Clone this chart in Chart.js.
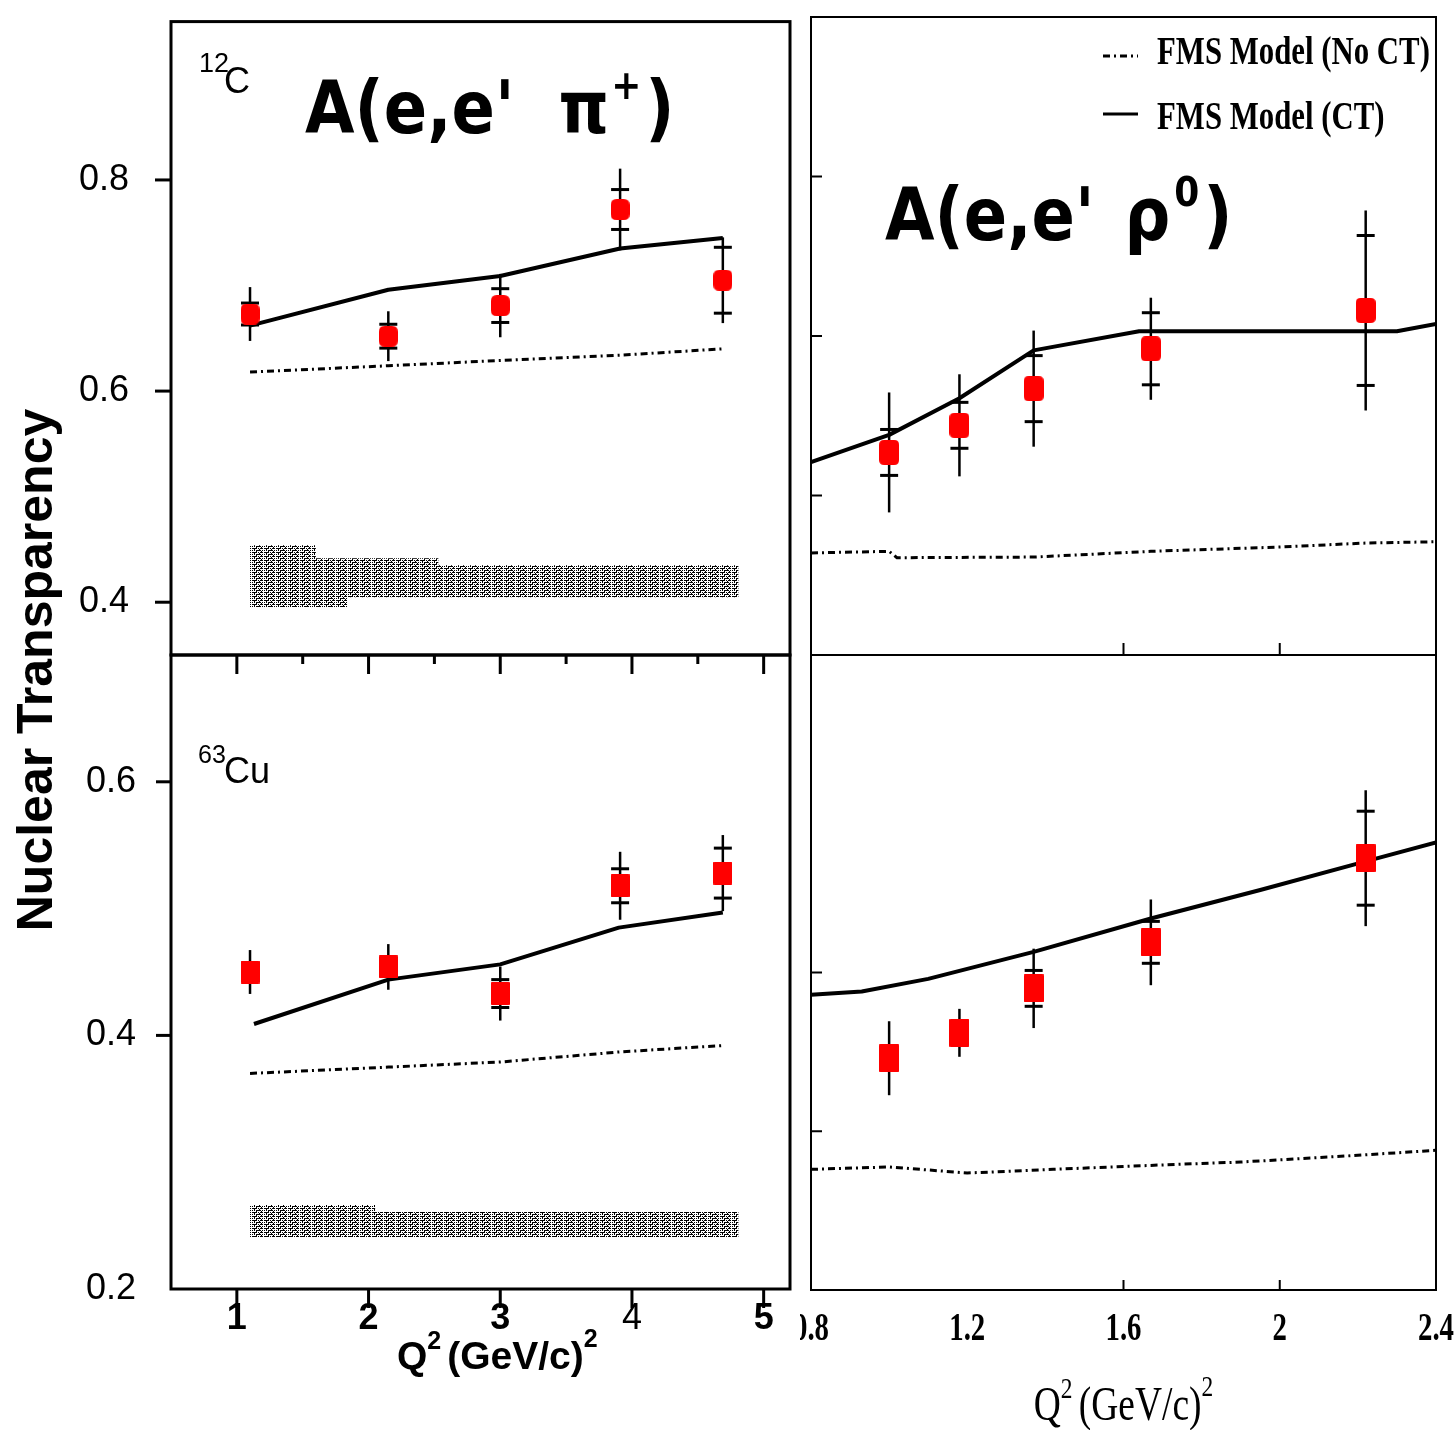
<!DOCTYPE html>
<html>
<head>
<meta charset="utf-8">
<title>Nuclear Transparency</title>
<script src="https://cdn.jsdelivr.net/npm/chart.js@4.4.1/dist/chart.umd.min.js"></script>
<style>
  html, body { margin: 0; padding: 0; background: #fff; }
  body { width: 1456px; height: 1430px; position: relative; overflow: hidden; }
  canvas { position: absolute; top: 0; }
</style>
</head>
<body>
<canvas id="tl" width="800" height="1430" style="left:0"></canvas>
<canvas id="bl" width="800" height="1430" style="left:0"></canvas>
<canvas id="tr" width="656" height="1430" style="left:800px"></canvas>
<canvas id="br" width="656" height="1430" style="left:800px"></canvas>
<script>
// ---------- A(e,e' pi+) : 12C ----------
const piQ2 = [1.10, 2.15, 3.00, 3.91, 4.69];
const piC_T = [0.673, 0.652, 0.681, 0.772, 0.705];
const piC_stat = [0.0104, 0.0113, 0.016, 0.0189, 0.0312];
const piC_tot = [0.0255, 0.0236, 0.030, 0.0387, 0.0406];
const piC_ct = [0.662, 0.696, 0.709, 0.735, 0.745];
const piC_noct = [0.618, 0.624, 0.629, 0.634, 0.640];
const piC_bandQ2 = [1.10, 1.60, 1.84, 2.53, 2.69, 4.81];
const piC_bandHi = [0.454, 0.454, 0.4416, 0.4416, 0.435, 0.435];
const piC_bandLo = [0.3897, 0.3954, 0.3954, 0.4048, 0.4048, 0.4048];

// ---------- A(e,e' pi+) : 63Cu ----------
const piCu_T = [0.450, 0.454, 0.433, 0.518, 0.528];
const piCu_stat = [null, null, 0.011, 0.0134, 0.0197];
const piCu_tot = [0.0173, 0.018, 0.0213, 0.0268, 0.030];
const piCu_ctQ2 = [1.13, 2.15, 3.00, 3.90, 4.69];
const piCu_ct = [0.409, 0.444, 0.456, 0.485, 0.497];
const piCu_noct = [0.370, 0.375, 0.379, 0.387, 0.392];
const piCu_bandQ2 = [1.10, 2.05, 2.15, 4.81];
const piCu_bandHi = [0.2662, 0.2662, 0.2607, 0.2607];
const piCu_bandLo = [0.2363, 0.241, 0.241, 0.241];

// ---------- A(e,e' rho0) : upper panel ----------
const rhoQ2 = [1.00, 1.18, 1.37, 1.67, 2.22];
const rhoA_T = [0.627, 0.644, 0.667, 0.692, 0.716];
const rhoA_stat = [0.0144, 0.0144, 0.0207, 0.0226, 0.047];
const rhoA_tot = [0.0376, 0.032, 0.0364, 0.032, 0.0627];
const rhoA_ctQ2 = [0.80, 1.00, 1.18, 1.37, 1.64, 2.30, 2.40];
const rhoA_ct = [0.621, 0.638, 0.661, 0.691, 0.703, 0.703, 0.7075];
const rhoA_noctQ2 = [0.80, 1.00, 1.02, 1.37, 1.67, 2.00, 2.22, 2.40];
const rhoA_noct = [0.564, 0.565, 0.561, 0.5614, 0.565, 0.5677, 0.5702, 0.571];

// ---------- A(e,e' rho0) : lower panel ----------
const rhoB_T = [0.446, 0.462, 0.490, 0.519, 0.572];
const rhoB_stat = [null, null, 0.0113, 0.0132, 0.0296];
const rhoB_tot = [0.0233, 0.0151, 0.025, 0.027, 0.0428];
const rhoB_ctQ2 = [0.80, 0.93, 1.10, 1.37, 1.67, 1.95, 2.22, 2.40];
const rhoB_ct = [0.486, 0.488, 0.496, 0.513, 0.534, 0.552, 0.570, 0.582];
const rhoB_noctQ2 = [0.80, 1.00, 1.20, 1.42, 1.69, 1.90, 2.17, 2.40];
const rhoB_noct = [0.376, 0.3775, 0.3737, 0.376, 0.3787, 0.3806, 0.3844, 0.388];

// tick labels
const rhoXLabels = ['0.8', '1.2', '1.6', '2', '2.4'];
const legendLabels = ['FMS Model (No CT)', 'FMS Model (CT)'];

const SANS = '"Liberation Sans", Arial, sans-serif';
const SERIF = '"Liberation Serif", "Times New Roman", serif';
const ROUND = '"DejaVu Sans", sans-serif';
Chart.defaults.font.family = SANS;
Chart.defaults.color = '#000';

const pts = (xs, ys) => xs.map((x, i) => ({ x, y: ys[i] }));

function markerTile(w, h, r) {
  const c = document.createElement('canvas');
  c.width = w; c.height = h;
  const g = c.getContext('2d');
  g.fillStyle = '#ff0000';
  g.beginPath();
  g.moveTo(r, 0); g.lineTo(w - r, 0); g.quadraticCurveTo(w, 0, w, r);
  g.lineTo(w, h - r); g.quadraticCurveTo(w, h, w - r, h);
  g.lineTo(r, h); g.quadraticCurveTo(0, h, 0, h - r);
  g.lineTo(0, r); g.quadraticCurveTo(0, 0, r, 0);
  g.closePath(); g.fill();
  return c;
}

// hatch texture of broken horizontal rows used for the systematic bands
function hatchPattern() {
  const rows = [
    '111110101110',
    '001000010000',
    '101011111010',
    '000010000100'
  ];
  const c = document.createElement('canvas');
  c.width = rows[0].length; c.height = rows.length;
  const g = c.getContext('2d');
  g.fillStyle = '#fff'; g.fillRect(0, 0, c.width, c.height);
  g.fillStyle = '#000';
  rows.forEach((r, y) => { for (let x = 0; x < r.length; x++) if (r[x] === '1') g.fillRect(x, y, 1, 1); });
  return g.createPattern(c, 'repeat');
}
const BAND = hatchPattern();

function pointSet(xs, ys, img) {
  return { data: pts(xs, ys), showLine: false, pointStyle: img, pointRadius: 10, pointHoverRadius: 10,
           borderWidth: 0, backgroundColor: '#ff0000', borderColor: '#ff0000' };
}
function ctSet(xs, ys) {
  return { data: pts(xs, ys), borderColor: '#000', borderWidth: 4, pointRadius: 0, tension: 0,
           fill: false, borderJoinStyle: 'round' };
}
function noctSet(xs, ys) {
  return { data: pts(xs, ys), borderColor: '#000', borderWidth: 3, borderDash: [7, 4, 2, 4],
           pointRadius: 0, tension: 0, fill: false };
}
function bandSets(xs, hi, lo) {
  return [
    { data: pts(xs, hi), borderColor: 'rgba(0,0,0,0)', borderWidth: 0, pointRadius: 0,
      stepped: 'after', fill: '+1', backgroundColor: BAND },
    { data: pts(xs, lo), borderColor: 'rgba(0,0,0,0)', borderWidth: 0, pointRadius: 0,
      stepped: 'after', fill: false }
  ];
}

// text helper: runs of [string, font, dy, gap] drawn left to right
function runs(ctx, x, y, parts, sx, sy) {
  ctx.save();
  ctx.fillStyle = '#000';
  ctx.textBaseline = 'alphabetic';
  ctx.textAlign = 'left';
  ctx.translate(x, y);
  ctx.scale(sx || 1, sy || 1);
  let cx = 0;
  for (const [s, font, dy, gap] of parts) {
    ctx.font = font;
    ctx.fillText(s, cx, dy || 0);
    cx += ctx.measureText(s).width + (gap || 0);
  }
  ctx.restore();
  return cx * (sx || 1);
}
function runsWidth(ctx, parts, sx) {
  ctx.save();
  let w = 0;
  for (const [s, font, dy, gap] of parts) { ctx.font = font; w += ctx.measureText(s).width + (gap || 0); }
  ctx.restore();
  return w * (sx || 1);
}

// frame, tick marks, error bars and panel text
function panelPlugin(cfg) {
  return {
    id: 'panel_' + cfg.name,
    beforeDatasetDraw(chart, args) {
      if (args.index !== 0) return;
      const ctx = chart.ctx, xs = chart.scales.x, ys = chart.scales.y;
      ctx.save();
      ctx.strokeStyle = '#000';
      cfg.q2.forEach((q, i) => {
        const px = xs.getPixelForValue(q);
        const v = cfg.val[i], tot = cfg.tot[i], stat = cfg.stat[i];
        ctx.lineWidth = 2.5;
        ctx.beginPath();
        ctx.moveTo(px, ys.getPixelForValue(v + tot));
        ctx.lineTo(px, ys.getPixelForValue(v - tot));
        ctx.stroke();
        if (stat != null) {
          ctx.lineWidth = 3;
          [v + stat, v - stat].forEach(e => {
            const py = ys.getPixelForValue(e);
            ctx.beginPath(); ctx.moveTo(px - 9, py); ctx.lineTo(px + 9, py); ctx.stroke();
          });
        }
      });
      ctx.restore();
    },
    afterDraw(chart) {
      const ctx = chart.ctx, a = chart.chartArea, xs = chart.scales.x, ys = chart.scales.y;
      ctx.save();
      ctx.strokeStyle = '#000';
      ctx.lineWidth = cfg.frameW;
      ctx.strokeRect(a.left, a.top, a.right - a.left, a.bottom - a.top);
      ctx.lineWidth = cfg.tickW;
      const dir = cfg.inward ? -1 : 1;
      xs.ticks.forEach(t => {
        const len = cfg.xTickLen(t.value);
        if (!len) return;
        const px = xs.getPixelForValue(t.value);
        ctx.beginPath(); ctx.moveTo(px, a.bottom); ctx.lineTo(px, a.bottom - dir * len); ctx.stroke();
      });
      ys.ticks.forEach(t => {
        const len = cfg.yTickLen(t.value);
        if (!len) return;
        const py = ys.getPixelForValue(t.value);
        ctx.beginPath(); ctx.moveTo(a.left, py); ctx.lineTo(a.left + dir * len, py); ctx.stroke();
      });
      ctx.restore();
      if (cfg.text) cfg.text(chart, ctx, a, xs, ys);
    }
  };
}

function makePanel(id, cfg) {
  return new Chart(document.getElementById(id), {
    type: 'line',
    data: { datasets: cfg.datasets },
    options: {
      responsive: false, maintainAspectRatio: false, animation: false, devicePixelRatio: 1, events: [],
      layout: { padding: cfg.pad },
      plugins: { legend: { display: false }, tooltip: { enabled: false } },
      scales: {
        x: {
          type: 'linear', position: 'bottom', min: cfg.x[0], max: cfg.x[1],
          grid: { display: false, drawTicks: false }, border: { display: false },
          ticks: Object.assign({ stepSize: cfg.x[2], maxTicksLimit: 1000, includeBounds: false,
                                 autoSkip: false, maxRotation: 0, minRotation: 0 }, cfg.xTicks),
          afterFit: s => { s.height = cfg.xH; }
        },
        y: {
          type: 'linear', position: 'left', min: cfg.y[0], max: cfg.y[1],
          grid: { display: false, drawTicks: false }, border: { display: false },
          ticks: Object.assign({ stepSize: cfg.y[2], maxTicksLimit: 1000, includeBounds: false,
                                 autoSkip: false }, cfg.yTicks),
          afterFit: s => { s.width = cfg.yW; }
        }
      }
    },
    plugins: [panelPlugin(cfg)]
  });
}

const leftXTick = v => (v >= 1 && v <= 5 + 1e-9) ? (Number.isInteger(v) ? 19 : 9) : 0;
const pct = v => Math.round(v * 100);

// ---------- upper left ----------
makePanel('tl', {
  name: 'tl',
  datasets: [pointSet(piQ2, piC_T, markerTile(19, 21, 6)), ctSet(piQ2, piC_ct), noctSet(piQ2, piC_noct),
             ...bandSets(piC_bandQ2, piC_bandHi, piC_bandLo)],
  q2: piQ2, val: piC_T, stat: piC_stat, tot: piC_tot,
  x: [0.5, 5.2, 0.5], y: [0.35, 0.95, 0.05],
  pad: { left: 79, top: 20, right: 6, bottom: 775 }, yW: 92, xH: 0,
  xTicks: { display: false },
  yTicks: { padding: 0, crossAlign: 'far', font: { size: 36 },
            callback: v => pct(v) % 20 === 0 ? v.toFixed(1) : null },
  frameW: 3, tickW: 3, inward: true,
  xTickLen: leftXTick,
  yTickLen: v => { const k = pct(v); if (k <= 35 || k >= 95) return 0; return k % 10 === 0 ? 16 : 8; },
  text(chart, ctx) {
    runs(ctx, 199, 72, [['12', '27px ' + SANS]]);
    runs(ctx, 224, 93, [['C', '36px ' + SANS]]);
    const big = 'bold 64px ' + ROUND;
    runs(ctx, 305, 133, [['A(e,e\'', big, 0, 44], ['\u03c0', big, 0, 2], ['+', 'bold 36px ' + ROUND, -30, 4], [')', big]], 1, 1.15);
  }
});

// ---------- lower left ----------
makePanel('bl', {
  name: 'bl',
  datasets: [pointSet(piQ2, piCu_T, markerTile(19, 23, 1)), ctSet(piCu_ctQ2, piCu_ct), noctSet(piQ2, piCu_noct),
             ...bandSets(piCu_bandQ2, piCu_bandHi, piCu_bandLo)],
  q2: piQ2, val: piCu_T, stat: piCu_stat, tot: piCu_tot,
  x: [0.5, 5.2, 0.5], y: [0.2, 0.7, 0.1],
  pad: { left: 0, top: 655, right: 6, bottom: 41 }, yW: 171, xH: 100,
  xTicks: { padding: 8, callback: v => (Number.isInteger(v) && v >= 1 && v <= 5) ? String(v) : null,
            font: c => ({ size: 36, weight: (c.tick && c.tick.value === 4) ? 'normal' : 'bold' }) },
  yTicks: { padding: 35, font: { size: 36 }, callback: v => pct(v) % 20 === 0 ? v.toFixed(1) : null },
  frameW: 3, tickW: 3, inward: true,
  xTickLen: leftXTick,
  yTickLen: v => { const k = pct(v); if (k <= 20 || k >= 70) return 0; return k % 20 === 0 ? 15 : 10; },
  text(chart, ctx) {
    runs(ctx, 198, 763, [['63', '25px ' + SANS]]);
    runs(ctx, 224, 783, [['Cu', '36px ' + SANS]]);
    const f = 'bold 39px ' + SANS, s = 'bold 25px ' + SANS;
    runs(ctx, 397, 1369, [['Q', f], ['2', s, -20, 6], ['(GeV/c)', f], ['2', s, -22]]);
    // vertical axis title shared by both left panels
    ctx.save();
    ctx.translate(38, 670);
    ctx.rotate(-Math.PI / 2);
    ctx.font = 'bold 50px ' + SANS;
    ctx.textAlign = 'center';
    ctx.textBaseline = 'middle';
    ctx.fillStyle = '#000';
    ctx.fillText('Nuclear Transparency', 0, 0);
    ctx.restore();
  }
});

const rhoXTick = v => [0.8, 1.6, 2.0].some(t => Math.abs(t - v) < 1e-6) ? 12 : 0;

// ---------- upper right ----------
makePanel('tr', {
  name: 'tr',
  datasets: [pointSet(rhoQ2, rhoA_T, markerTile(20, 25, 5)), ctSet(rhoA_ctQ2, rhoA_ct), noctSet(rhoA_noctQ2, rhoA_noct)],
  q2: rhoQ2, val: rhoA_T, stat: rhoA_stat, tot: rhoA_tot,
  x: [0.8, 2.4, 0.4], y: [0.5, 0.9, 0.1],
  pad: { left: 0, top: 17, right: 20, bottom: 775 }, yW: 11, xH: 0,
  xTicks: { display: false }, yTicks: { display: false },
  frameW: 2, tickW: 2, inward: false,
  xTickLen: rhoXTick,
  yTickLen: v => [60, 70, 80].includes(pct(v)) ? 11 : 0,
  text(chart, ctx) {
    const dsNo = chart.data.datasets[2], dsCt = chart.data.datasets[1];
    ctx.save();
    ctx.strokeStyle = '#000';
    ctx.lineWidth = dsNo.borderWidth; ctx.setLineDash(dsNo.borderDash);
    ctx.beginPath(); ctx.moveTo(303, 56); ctx.lineTo(338, 56); ctx.stroke();
    ctx.setLineDash([]); ctx.lineWidth = 3;
    ctx.beginPath(); ctx.moveTo(303, 114); ctx.lineTo(338, 114); ctx.stroke();
    ctx.restore();
    runs(ctx, 357, 64, [[legendLabels[0], 'bold 40px ' + SERIF]], 0.77);
    runs(ctx, 357, 129, [[legendLabels[1], 'bold 40px ' + SERIF]], 0.77);
    const big = 'bold 64px ' + ROUND;
    runs(ctx, 85, 240, [['A(e,e\'', big, 0, 30], ['\u03c1', big, 0, 4], ['0', 'bold 36px ' + ROUND, -30, 4], [')', big]], 1, 1.15);
  }
});

// ---------- lower right ----------
makePanel('br', {
  name: 'br',
  datasets: [pointSet(rhoQ2, rhoB_T, markerTile(20, 28, 1)), ctSet(rhoB_ctQ2, rhoB_ct), noctSet(rhoB_noctQ2, rhoB_noct)],
  q2: rhoQ2, val: rhoB_T, stat: rhoB_stat, tot: rhoB_tot,
  x: [0.8, 2.4, 0.4], y: [0.3, 0.7, 0.1],
  pad: { left: 0, top: 655, right: 20, bottom: 0 }, yW: 11, xH: 140,
  xTicks: { display: false }, yTicks: { display: false },
  frameW: 2, tickW: 2, inward: false,
  xTickLen: v => rhoXTick(v) ? 10 : 0,
  yTickLen: v => [40, 50].includes(pct(v)) ? 11 : 0,
  text(chart, ctx, a, xs) {
    xs.ticks.forEach((t, i) => {
      const lab = rhoXLabels[i];
      if (!lab) return;
      const parts = [[lab, 'bold 40px ' + SERIF]];
      const w = runsWidth(ctx, parts, 0.72);
      runs(ctx, xs.getPixelForValue(t.value) - w / 2, 1340, parts, 0.72);
    });
    const f = '48px ' + SERIF, s = '30px ' + SERIF;
    const parts = [['Q', f], ['2', s, -22, 8], ['(GeV/c)', f], ['2', s, -24]];
    const w = runsWidth(ctx, parts, 0.78);
    runs(ctx, (a.left + a.right) / 2 - w / 2, 1420, parts, 0.78);
  }
});
</script>
</body>
</html>
